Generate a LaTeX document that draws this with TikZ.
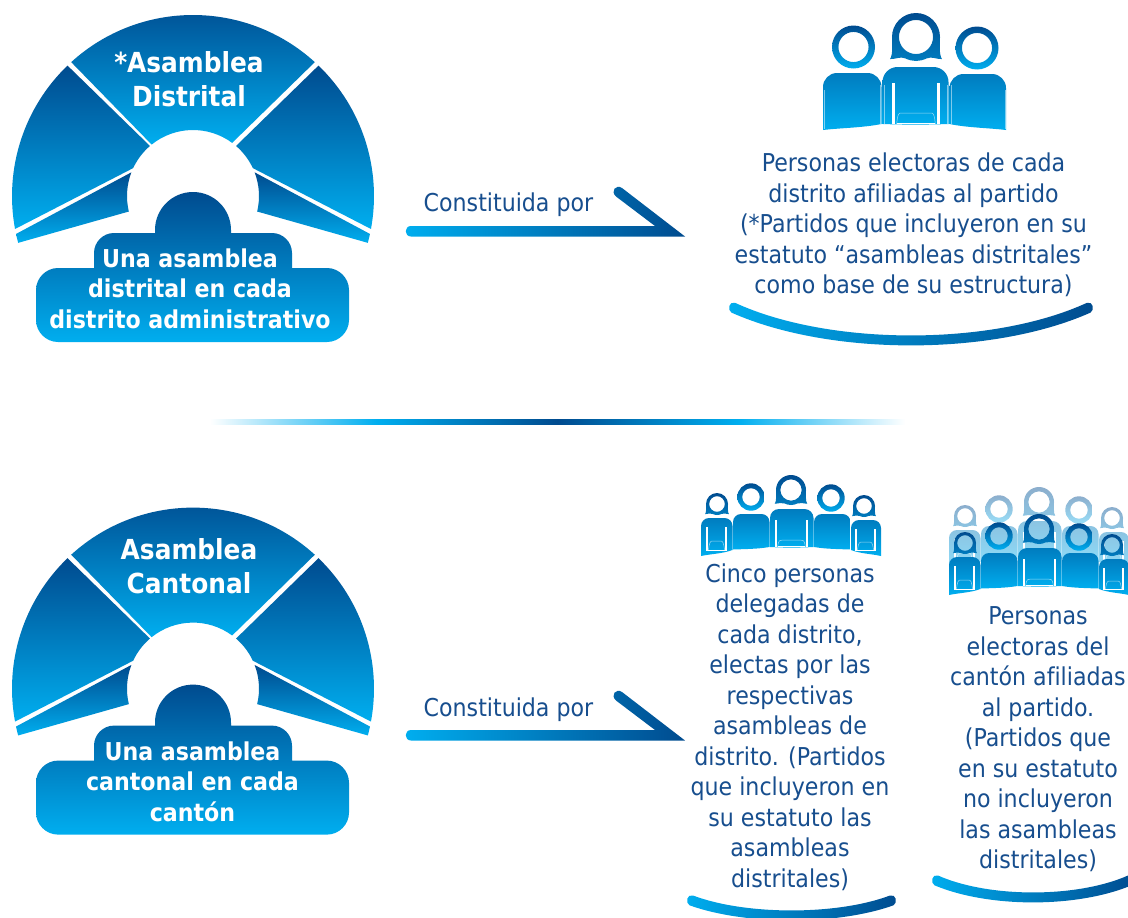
\documentclass[tikz,border=0pt]{standalone}
\usepackage{fontspec}
\setmainfont[Ligatures=NoCommon]{DejaVu Sans Condensed}
\definecolor{cdark}{HTML}{004B8F}
\definecolor{cmid}{HTML}{007CBF}
\definecolor{ccyan}{HTML}{00AEEF}
\definecolor{ctext}{HTML}{174E8E}
\colorlet{gtop}{cdark}\colorlet{gbot}{ccyan}\colorlet{btop}{cmid}\colorlet{bbot}{ccyan}\colorlet{hair}{white}
\pgfdeclarehorizontalshading{ruleshade}{100bp}{color(0bp)=(white); color(25bp)=(white); color(37bp)=(ccyan); color(50bp)=(cdark); color(63bp)=(ccyan); color(75bp)=(white); color(100bp)=(white)}
\tikzset{
  grad/.style={top color=cdark,bottom color=ccyan,draw=none},
  hgrad/.style={left color=ccyan,right color=cdark,draw=none},
  body/.style={font=\fontsize{24.6}{30.5}\selectfont,text=ctext,align=center,inner sep=0pt},
  head/.style={font=\fontsize{27.6}{33.5}\selectfont\bfseries,text=white,align=center,inner sep=0pt},
  sub/.style={font=\fontsize{24.6}{30.5}\selectfont\bfseries,text=white,align=center,inner sep=0pt},
}
\newcommand{\mifanpieces}{%
  \shade[grad] (226.1:181) arc (226.1:169.5:181) -- (205:66) arc (205:229.3:66) -- cycle;
  \shade[grad] (167.9:181) arc (167.9:165:181) -- (166.4:66) arc (166.4:201:66) -- cycle;
}
\newcommand{\mifan}[1]{%
\begin{scope}[shift={(0,#1)}]
  \begin{scope}[shift={(193,196)}]
    \shade[grad] (227.7:181) arc (227.7:312.3:181) -- (306.4:66) arc (306.4:231.2:66) -- cycle;
    \mifanpieces
    \begin{scope}[xscale=-1]\mifanpieces\end{scope}
  \end{scope}
  \shade[grad] (155,233) -- (155,230) arc (180:360:38) -- (231,233) -- (272,233)
    .. controls (283,233) and (292,242) .. (292,253) -- (292,268) -- (327,268)
    .. controls (339,268) and (349,278) .. (349,290) -- (349,320)
    .. controls (349,332) and (339,342) .. (327,342) -- (58,342)
    .. controls (46,342) and (36,332) .. (36,320) -- (36,290)
    .. controls (36,278) and (46,268) .. (58,268) -- (94,268) -- (94,253)
    .. controls (94,242) and (103,233) .. (114,233) -- cycle;
\end{scope}}
\newcommand{\miflecha}[1]{%
\begin{scope}[shift={(0,#1)}]
  \shade[hgrad] (411,226) -- (655,226) -- (616,196.5)
    .. controls (610,191) and (616,184) .. (622,188) -- (685,236.5) -- (411,236.5)
    .. controls (404,236.5) and (404,226) .. (411,226) -- cycle;
\end{scope}}
\newcommand{\micresc}[4]{%
  \shade[hgrad] ({#1+1},{#3-5.2})
    .. controls ({#1+0.27*(#2-#1)},{#3-5+1.333*#4}) and ({#2-0.27*(#2-#1)},{#3-5+1.333*#4}) .. ({#2-1},{#3-5.2})
    .. controls ({#2+5},{#3-7}) and ({#2+7},{#3+2}) .. ({#2+2.5},{#3+4.6})
    .. controls ({#2-0.27*(#2-#1)},{#3+5+1.333*#4}) and ({#1+0.27*(#2-#1)},{#3+5+1.333*#4}) .. ({#1-2.5},{#3+4.6})
    .. controls ({#1-7},{#3+2}) and ({#1-5},{#3-7}) .. ({#1+1},{#3-5.2}) -- cycle;
}
% cx cy R ratio
\newcommand{\miaro}[4]{%
  \shade[top color=gtop,bottom color=gbot,even odd rule] (#1,#2) circle (#3) (#1,#2) circle ({#4*#3});
}
\newcommand{\miburbuja}[3]{%
\begin{scope}[shift={(#1,#2)},scale=#3]
  \shade[top color=gtop,bottom color=btop,even odd rule]
    (-1.08,.92) .. controls (-.95,.7) and (-1,.3) .. (-1,0) arc (180:360:1)
    .. controls (1,.3) and (.95,.7) .. (1.08,.92)
    .. controls (.85,.93) and (.65,.8) .. (.45,.89)
    .. controls (.3,.96) and (.15,1) .. (0,1)
    .. controls (-.15,1) and (-.3,.96) .. (-.45,.89)
    .. controls (-.65,.8) and (-.85,.93) .. (-1.08,.92) -- cycle
    (0,0) circle (.71);
\end{scope}}
% x0 x1 ytop yl yr rad
\newcommand{\micuerpo}[6]{%
  \shade[top color=btop,bottom color=bbot] (#1,#4) -- (#1,{#3+#6})
    .. controls (#1,{#3+0.45*#6}) and ({#1+0.45*#6},#3) .. ({#1+#6},#3) -- ({#2-#6},#3)
    .. controls ({#2-0.45*#6},#3) and (#2,{#3+0.45*#6}) .. (#2,{#3+#6}) -- (#2,#5)
    .. controls ({#1+0.67*(#2-#1)},{0.5*(#4+#5)+0.8}) and ({#1+0.33*(#2-#1)},{0.5*(#4+#5)+0.8}) .. (#1,#4) -- cycle;
}
% x0 x1 y0 y1 w archtop : slits + seat arch
\newcommand{\mirendija}[6]{%
  \fill[white] ({#1-#5/2},#4) rectangle ({#1+#5/2},#3);
  \fill[white] ({#2-#5/2},#4) rectangle ({#2+#5/2},#3);
  \draw[white,line width=.5pt,opacity=.6] ({#1+#5},#4) .. controls ({#1+#5+1},#6) and ({#1+#5+2},#6) .. ({#1+#5+5},#6) -- ({#2-#5-5},#6) .. controls ({#2-#5-2},#6) and ({#2-#5-1},#6) .. ({#2-#5},#4);
  \draw[white,line width=.8pt] ({#1+#5},{#4-.6}) -- ({#2-#5},{#4-.6});
}
\newcommand{\migrupo}{%
  \miburbuja{717}{504}{11}
  \miaro{751}{497}{13.7}{.64}
  \miburbuja{791}{490}{15}
  \miaro{831}{498}{13.7}{.64}
  \miburbuja{864}{506}{11}
  \micuerpo{701}{732.5}{518}{556}{550}{8}
  \micuerpo{733}{769.5}{514}{549.5}{547}{8}
  \micuerpo{770}{813.5}{509}{547}{547}{9}
  \micuerpo{814}{850.5}{514}{547}{549.5}{8}
  \micuerpo{851}{881}{520}{550}{556}{8}
  \mirendija{707}{726}{527}{551}{1.4}{541}
  \mirendija{776}{807}{520}{547}{1.6}{540}
  \mirendija{856}{875}{529}{551}{1.4}{542}
}
\begin{document}
\begin{tikzpicture}[x=1pt,y=-1pt]
\clip (0,0) rectangle (1128,918);
\useasboundingbox (0,0) rectangle (1128,918);
\fill[white] (0,0) rectangle (1128,918);
\mifan{0}
\mifan{492.6}
\node[head] (t1) at (189,79) {*Asamblea\\Distrital};
\node[sub] (t2) at (190,288.5) {Una asamblea\\distrital en cada\\distrito administrativo};
\node[head] (t3) at (189,566) {Asamblea\\Cantonal};
\node[sub] (t4) at (192.5,781.5) {Una asamblea\\cantonal en cada\\cantón};
\miflecha{0}
\miflecha{504}
\node[body] (c1) at (508.5,205) {Constituida por};
\node[body] (c2) at (508.5,710) {Constituida por};
% big icon
\miaro{853.5}{47}{21.5}{.7}
\miaro{977}{48}{21.5}{.7}
\miburbuja{916}{37}{24}
\micuerpo{823}{881.5}{73}{130}{124}{14}
\micuerpo{882.5}{948.5}{67}{124}{124}{15}
\micuerpo{949.5}{1006}{74}{124}{130}{14}
\mirendija{893.5}{938.5}{83}{124}{3.2}{113}
\draw[white,line width=.5pt,opacity=.5] (880,85) -- (880,124) (884.5,85) -- (884.5,124) (947,85) -- (947,124) (951.5,85) -- (951.5,124) (823.8,90) -- (823.8,129) (1005.2,90) -- (1005.2,129);
\node[body] (b1) at (913.5,225) {Personas electoras de cada\\distrito afiliadas al partido\\(*Partidos que incluyeron en su\\estatuto “asambleas distritales”\\como base de su estructura)};
\micresc{734}{1088}{308}{32.5}
% rule
\shade[shading=ruleshade,shading angle=0] (210,419) rectangle (905,424);
% five people
\migrupo
\begin{scope}[shift={(248,12)}]
  \colorlet{gtop}{cdark!45!white}\colorlet{gbot}{ccyan!40!white}\colorlet{btop}{cmid!45!white}\colorlet{bbot}{ccyan!45!white}
  \migrupo
\end{scope}
\begin{scope}[shift={(248,39)}]\migrupo\end{scope}
\node[body] (b2) at (790,727) {Cinco personas\\delegadas de\\cada distrito,\\electas por las\\respectivas\\asambleas de\\distrito. (Partidos\\que incluyeron en\\su estatuto las\\asambleas\\distritales)};
\node[body] (b3) at (1038,739.5) {Personas\\electoras del\\cantón afiliadas\\al partido.\\(Partidos que\\en su estatuto\\no incluyeron\\las asambleas\\distritales)};
\micresc{692}{891}{900.7}{14.8}
\micresc{937}{1129}{880.7}{16.8}
\end{tikzpicture}
\end{document}
